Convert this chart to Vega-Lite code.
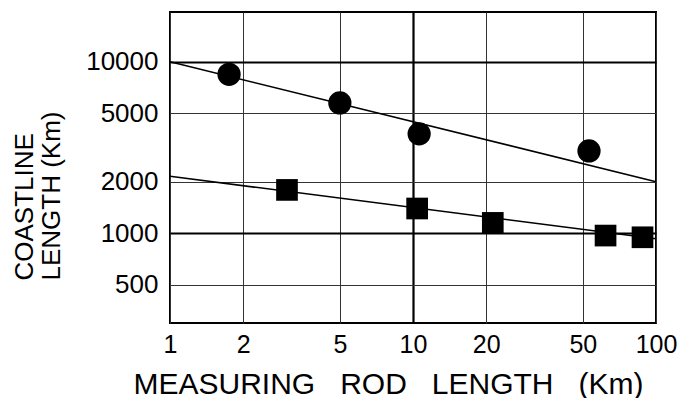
{
  "$schema": "https://vega.github.io/schema/vega-lite/v6.json",
  "width": 486,
  "height": 311,
  "autosize": {"type": "none"},
  "padding": {"left": 170, "top": 12, "right": 25, "bottom": 75},
  "background": "white",
  "config": {
    "view": {"stroke": "black", "strokeWidth": 2},
    "font": "Liberation Sans"
  },
  "datasets": {
    "fits": [
      {"series": "circles", "rod": 1, "coast": 10000},
      {"series": "circles", "rod": 100, "coast": 2000},
      {"series": "squares", "rod": 1, "coast": 2150},
      {"series": "squares", "rod": 100, "coast": 930}
    ],
    "points": [
      {"series": "circles", "rod": 1.75, "coast": 8450},
      {"series": "circles", "rod": 5.0, "coast": 5750},
      {"series": "circles", "rod": 10.6, "coast": 3800},
      {"series": "circles", "rod": 53, "coast": 3020},
      {"series": "squares", "rod": 3.03, "coast": 1790},
      {"series": "squares", "rod": 10.4, "coast": 1395},
      {"series": "squares", "rod": 21.3, "coast": 1150},
      {"series": "squares", "rod": 62, "coast": 970},
      {"series": "squares", "rod": 88, "coast": 948}
    ]
  },
  "layer": [
    {
      "data": {"name": "fits"},
      "mark": {"type": "line", "color": "black", "strokeWidth": 1.6},
      "encoding": {
        "x": {
          "field": "rod",
          "type": "quantitative",
          "scale": {"type": "log", "domain": [1, 100], "nice": false},
          "axis": {
            "values": [1, 2, 5, 10, 20, 50, 100],
            "format": "d",
            "labelFontSize": 25,
            "labelColor": "black",
            "labelPadding": 9,
            "labelFlush": false,
            "labelOverlap": false,
            "ticks": false,
            "tickSize": 0,
            "domain": false,
            "grid": true,
            "gridColor": {"condition": {"test": "datum.value == 10", "value": "black"}, "value": "#333333"},
            "gridWidth": {"condition": {"test": "datum.value == 10", "value": 2.2}, "value": 1},
            "gridOpacity": 1,
            "title": "MEASURING\u00a0\u00a0\u00a0ROD\u00a0\u00a0\u00a0LENGTH\u00a0\u00a0\u00a0(Km)",
            "titleFontSize": 30,
            "titleFontWeight": "normal",
            "titleColor": "black",
            "titleX": 218,
            "titleY": 70,
            "titleAlign": "center",
            "titleBaseline": "alphabetic"
          }
        },
        "y": {
          "field": "coast",
          "type": "quantitative",
          "scale": {"type": "log", "domain": [300, 19500], "nice": false},
          "axis": {
            "values": [500, 1000, 2000, 5000, 10000],
            "format": "d",
            "labelFontSize": 26,
            "labelColor": "black",
            "labelPadding": 12,
            "labelFlush": false,
            "labelOverlap": false,
            "ticks": false,
            "tickSize": 0,
            "domain": false,
            "grid": true,
            "gridColor": {"condition": {"test": "datum.value == 1000 || datum.value == 10000", "value": "black"}, "value": "#333333"},
            "gridWidth": {"condition": {"test": "datum.value == 1000 || datum.value == 10000", "value": 2.2}, "value": 1},
            "gridOpacity": 1,
            "title": ["COASTLINE", "LENGTH (Km)"],
            "titleFontSize": 26,
            "titleFontWeight": "normal",
            "titleColor": "black",
            "titleAngle": -90,
            "titleAlign": "left",
            "titleBaseline": "top",
            "titleLineHeight": 27,
            "titleX": -159,
            "titleY": 268
          }
        },
        "detail": {"field": "series"}
      }
    },
    {
      "data": {"name": "points"},
      "transform": [{"filter": "datum.series == 'circles'"}],
      "mark": {"type": "point", "shape": "circle", "filled": true, "opacity": 1, "color": "black", "size": 540},
      "encoding": {
        "x": {"field": "rod", "type": "quantitative"},
        "y": {"field": "coast", "type": "quantitative"}
      }
    },
    {
      "data": {"name": "points"},
      "transform": [{"filter": "datum.series == 'squares'"}],
      "mark": {"type": "point", "shape": "square", "filled": true, "opacity": 1, "color": "black", "size": 470},
      "encoding": {
        "x": {"field": "rod", "type": "quantitative"},
        "y": {"field": "coast", "type": "quantitative"}
      }
    }
  ]
}
